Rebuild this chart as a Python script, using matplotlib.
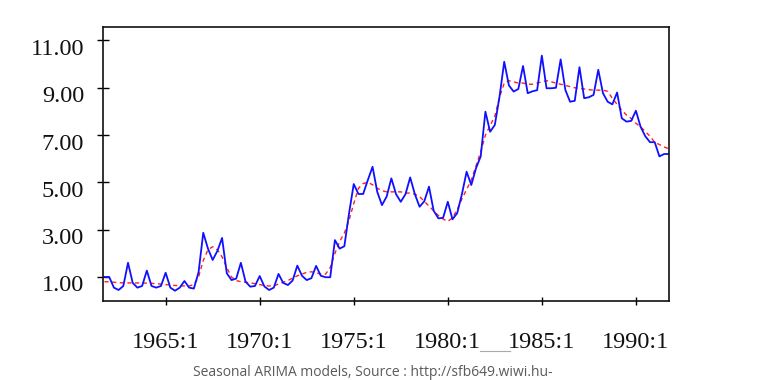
import numpy as np
import matplotlib.pyplot as plt
from matplotlib.lines import Line2D
from matplotlib.transforms import ScaledTranslation

# quarterly observations, 1961:4 .. 1991:4
start = 1961.75

series = [1.00,
          1.00, 0.55, 0.45, 0.62,   # 1962
          1.60, 0.75, 0.55, 0.62,   # 1963
          1.27, 0.62, 0.55, 0.62,   # 1964
          1.18, 0.55, 0.42, 0.55,   # 1965
          0.83, 0.55, 0.51, 1.20,   # 1966
          2.87, 2.20, 1.72, 2.10,   # 1967
          2.65, 1.16, 0.87, 0.93,   # 1968
          1.60, 0.80, 0.59, 0.62,   # 1969
          1.04, 0.60, 0.45, 0.55,   # 1970
          1.13, 0.75, 0.66, 0.85,   # 1971
          1.48, 1.05, 0.87, 0.95,   # 1972
          1.47, 1.05, 0.99, 0.99,   # 1973
          2.56, 2.20, 2.30, 3.69,   # 1974
          4.93, 4.51, 4.51, 5.10,   # 1975
          5.66, 4.60, 4.04, 4.40,   # 1976
          5.17, 4.50, 4.18, 4.50,   # 1977
          5.21, 4.50, 3.97, 4.20,   # 1978
          4.82, 3.80, 3.48, 3.50,   # 1979
          4.18, 3.44, 3.70, 4.50,   # 1980
          5.45, 4.89, 5.60, 6.10,   # 1981
          7.99, 7.14, 7.43, 8.62,   # 1982
          10.10, 9.10, 8.84, 8.95,  # 1983
          9.92, 8.77, 8.85, 8.90,   # 1984
          10.36, 8.98, 8.98, 9.00,  # 1985
          10.20, 8.91, 8.41, 8.45,  # 1986
          9.87, 8.56, 8.60, 8.70,   # 1987
          9.76, 8.77, 8.41, 8.30,   # 1988
          8.80, 7.71, 7.57, 7.60,   # 1989
          8.03, 7.35, 6.95, 6.70,   # 1990
          6.70, 6.10, 6.20, 6.20]   # 1991

trend = [0.80,
         0.80, 0.78, 0.76, 0.75,
         0.75, 0.75, 0.75, 0.75,
         0.74, 0.73, 0.72, 0.70,
         0.68, 0.66, 0.64, 0.63,
         0.62, 0.62, 0.68, 1.00,
         1.70, 2.15, 2.28, 2.15,
         1.85, 1.40, 1.00, 0.85,
         0.80, 0.78, 0.75, 0.72,
         0.68, 0.64, 0.62, 0.63,
         0.70, 0.78, 0.85, 0.95,
         1.05, 1.12, 1.20, 1.22,
         1.18, 1.12, 1.12, 1.40,
         2.00, 2.50, 2.85, 3.40,
         4.10, 4.75, 4.95, 5.00,
         4.90, 4.75, 4.65, 4.60,
         4.60, 4.60, 4.60, 4.55,
         4.55, 4.50, 4.40, 4.20,
         4.00, 3.80, 3.60, 3.45,
         3.35, 3.50, 3.85, 4.30,
         4.70, 5.10, 5.70, 6.30,
         7.00, 7.40, 7.80, 8.60,
         9.20, 9.30, 9.25, 9.20,
         9.20, 9.15, 9.15, 9.20,
         9.25, 9.30, 9.25, 9.20,
         9.15, 9.10, 9.05, 9.00,
         8.98, 8.95, 8.92, 8.90,
         8.90, 8.90, 8.85, 8.55,
         8.30, 8.05, 7.85, 7.70,
         7.50, 7.35, 7.15, 6.95,
         6.70, 6.60, 6.50, 6.42]

xtick_years = [1965, 1970, 1975, 1980, 1985, 1990]
xtick_labels = ["1965:1", "1970:1", "1975:1", "1980:1", "1985:1", "1990:1"]
ytick_vals = [1, 3, 5, 7, 9, 11]

t = start + 0.25 * np.arange(len(series))

fig = plt.figure(figsize=(7.59, 3.80), dpi=100)
ax = fig.add_axes([103/759, 1 - 301/380, (669 - 103)/759, (301 - 27)/380])

ax.plot(t, trend, color="#ff2020", lw=1.0, ls=(0, (3, 2.5)))
ax.plot(t, series, color="#1010ff", lw=1.3)

ax.set_xlim(1961.67, 1991.76)
ax.set_ylim(-0.015, 11.57)

ax.set_xticks(xtick_years)
ax.set_xticklabels(xtick_labels)
for lab in ax.get_xticklabels():
    lab.set_fontfamily("Liberation Serif")
    lab.set_fontsize(17.5)
    lab.set_color("#111111")

# y labels sit a little below their ticks in the original -> draw them by hand
ax.set_yticks(ytick_vals)
ax.set_yticklabels([])
ylab_tr = ax.get_yaxis_transform() + ScaledTranslation(-0.19, -0.09, fig.dpi_scale_trans)
for v in ytick_vals:
    ax.text(0, v, "%.2f" % v, transform=ylab_tr, ha="right", va="center",
            fontsize=17.5, family="Liberation Serif", color="#111111")

ax.tick_params(axis="x", direction="inout", length=6, width=1, pad=19)
ax.tick_params(axis="y", direction="inout", length=9, width=1)

for s in ax.spines.values():
    s.set_linewidth(1.2)
    s.set_color("#111111")

# thin mark under the labels, as in the source image
fig.add_artist(Line2D([480/759, 510/759], [1 - 351/380, 1 - 351/380],
                      color="#aaaaaa", lw=0.8))

fig.text(373/759, 1 - 373/380,
         "Seasonal ARIMA models, Source : http://sfb649.wiwi.hu-",
         ha="center", va="center", fontsize=10, color="#5a5a5a",
         family="Open Sans")

fig.savefig("out.png", dpi=100)
